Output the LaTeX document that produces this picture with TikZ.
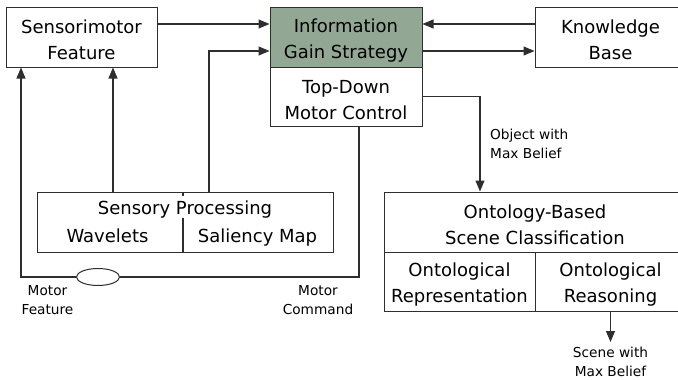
\documentclass[tikz,border=0pt]{standalone}
\usepackage{fontspec}
\setmainfont{DejaVu Sans}
\usetikzlibrary{arrows.meta,shapes.geometric}
\definecolor{linec}{HTML}{2E2E2E}
\definecolor{igsfill}{HTML}{93A894}
\newcommand{\tp}{\rule{0pt}{20pt}}
\tikzset{
  box/.style={draw=linec, line width=1pt, inner sep=0pt, align=center,
    font=\fontsize{18}{26}\selectfont},
  big/.style={inner sep=0pt, font=\fontsize{18}{26}\selectfont},
  lab/.style={inner sep=0pt, font=\fontsize{13.7}{18.5}\selectfont},
  conn/.style={draw=linec, line width=1.1pt},
  arr/.style={conn, -{Triangle[length=11pt,width=9pt]}}
}
\begin{document}
\begin{tikzpicture}[x=1pt,y=-1pt]
\useasboundingbox (0,0) rectangle (678,380);
% boxes
\node[box, minimum width=151pt, minimum height=60pt] (SM) at (81.5,37) {\tp Sensorimotor\\Feature};
\node[box, fill=igsfill, minimum width=152pt, minimum height=60pt] (IGS) at (346,37) {\tp Information\\Gain Strategy};
\node[box, minimum width=152pt, minimum height=59pt] (TD) at (346,96.5) {\tp Top-Down\\Motor Control};
\node[box, minimum width=151pt, minimum height=60pt] (KB) at (610.5,37) {\tp Knowledge\\Base};
\node[box, minimum width=296pt, minimum height=60pt] (SP) at (185,222) {};
\node[big, anchor=base] (SPt) at (185,214) {Sensory Processing};
\node[big, anchor=base] (SPw) at (107.5,242) {Wavelets};
\node[big, anchor=base] (SPs) at (257.5,242) {Saliency Map};
\draw[conn] (183,218) -- (183,252);
\draw[conn] (183,192) -- (183,196);
\node[box, minimum width=302pt, minimum height=60pt] (ONT) at (535,222) {\tp Ontology-Based\\Scene Classification};
\node[box, minimum width=151pt, minimum height=59pt] (ONTR) at (459.5,281.5) {\tp Ontological\\Representation};
\node[box, minimum width=151pt, minimum height=59pt] (ONTS) at (610.5,281.5) {\tp Ontological\\Reasoning};
\node[draw=linec, line width=1pt, fill=white, ellipse, inner sep=0pt, minimum width=43pt, minimum height=17pt] (MF) at (98,277) {};
% connectors
\draw[arr] ([yshift=13pt]SM.east) -- ([yshift=13pt]IGS.west);
\draw[arr] ([yshift=13pt]KB.west) -- ([yshift=13pt]IGS.east);
\draw[arr] ([yshift=-14pt]IGS.east) -- ([yshift=-14pt]KB.west);
\draw[arr] ([xshift=24pt]SP.north) |- ([yshift=-14pt]IGS.west);
\draw[arr] ([xshift=-72pt]SP.north) -- ([xshift=31.5pt]SM.south);
\draw[arr] (TD.east) -| ([xshift=-55pt]ONT.north);
\draw[conn] ([xshift=13pt]TD.south) |- (MF.east);
\draw[arr] (MF.west) -| ([xshift=-60.5pt]SM.south);
\coordinate (SE) at (610.5,342);
\draw[arr] (ONTS.south) -- (SE);
% labels
\node[lab, align=center] (lmf) at (47.5,300) {Motor\\Feature};
\node[lab, align=center] (lmc) at (318,300) {Motor\\Command};
\node[lab, align=left, anchor=west] (lob) at (490,144) {Object with\\Max Belief};
\node[lab, align=center] (lsc) at (610.5,362) {Scene with\\Max Belief};
\end{tikzpicture}
\end{document}
